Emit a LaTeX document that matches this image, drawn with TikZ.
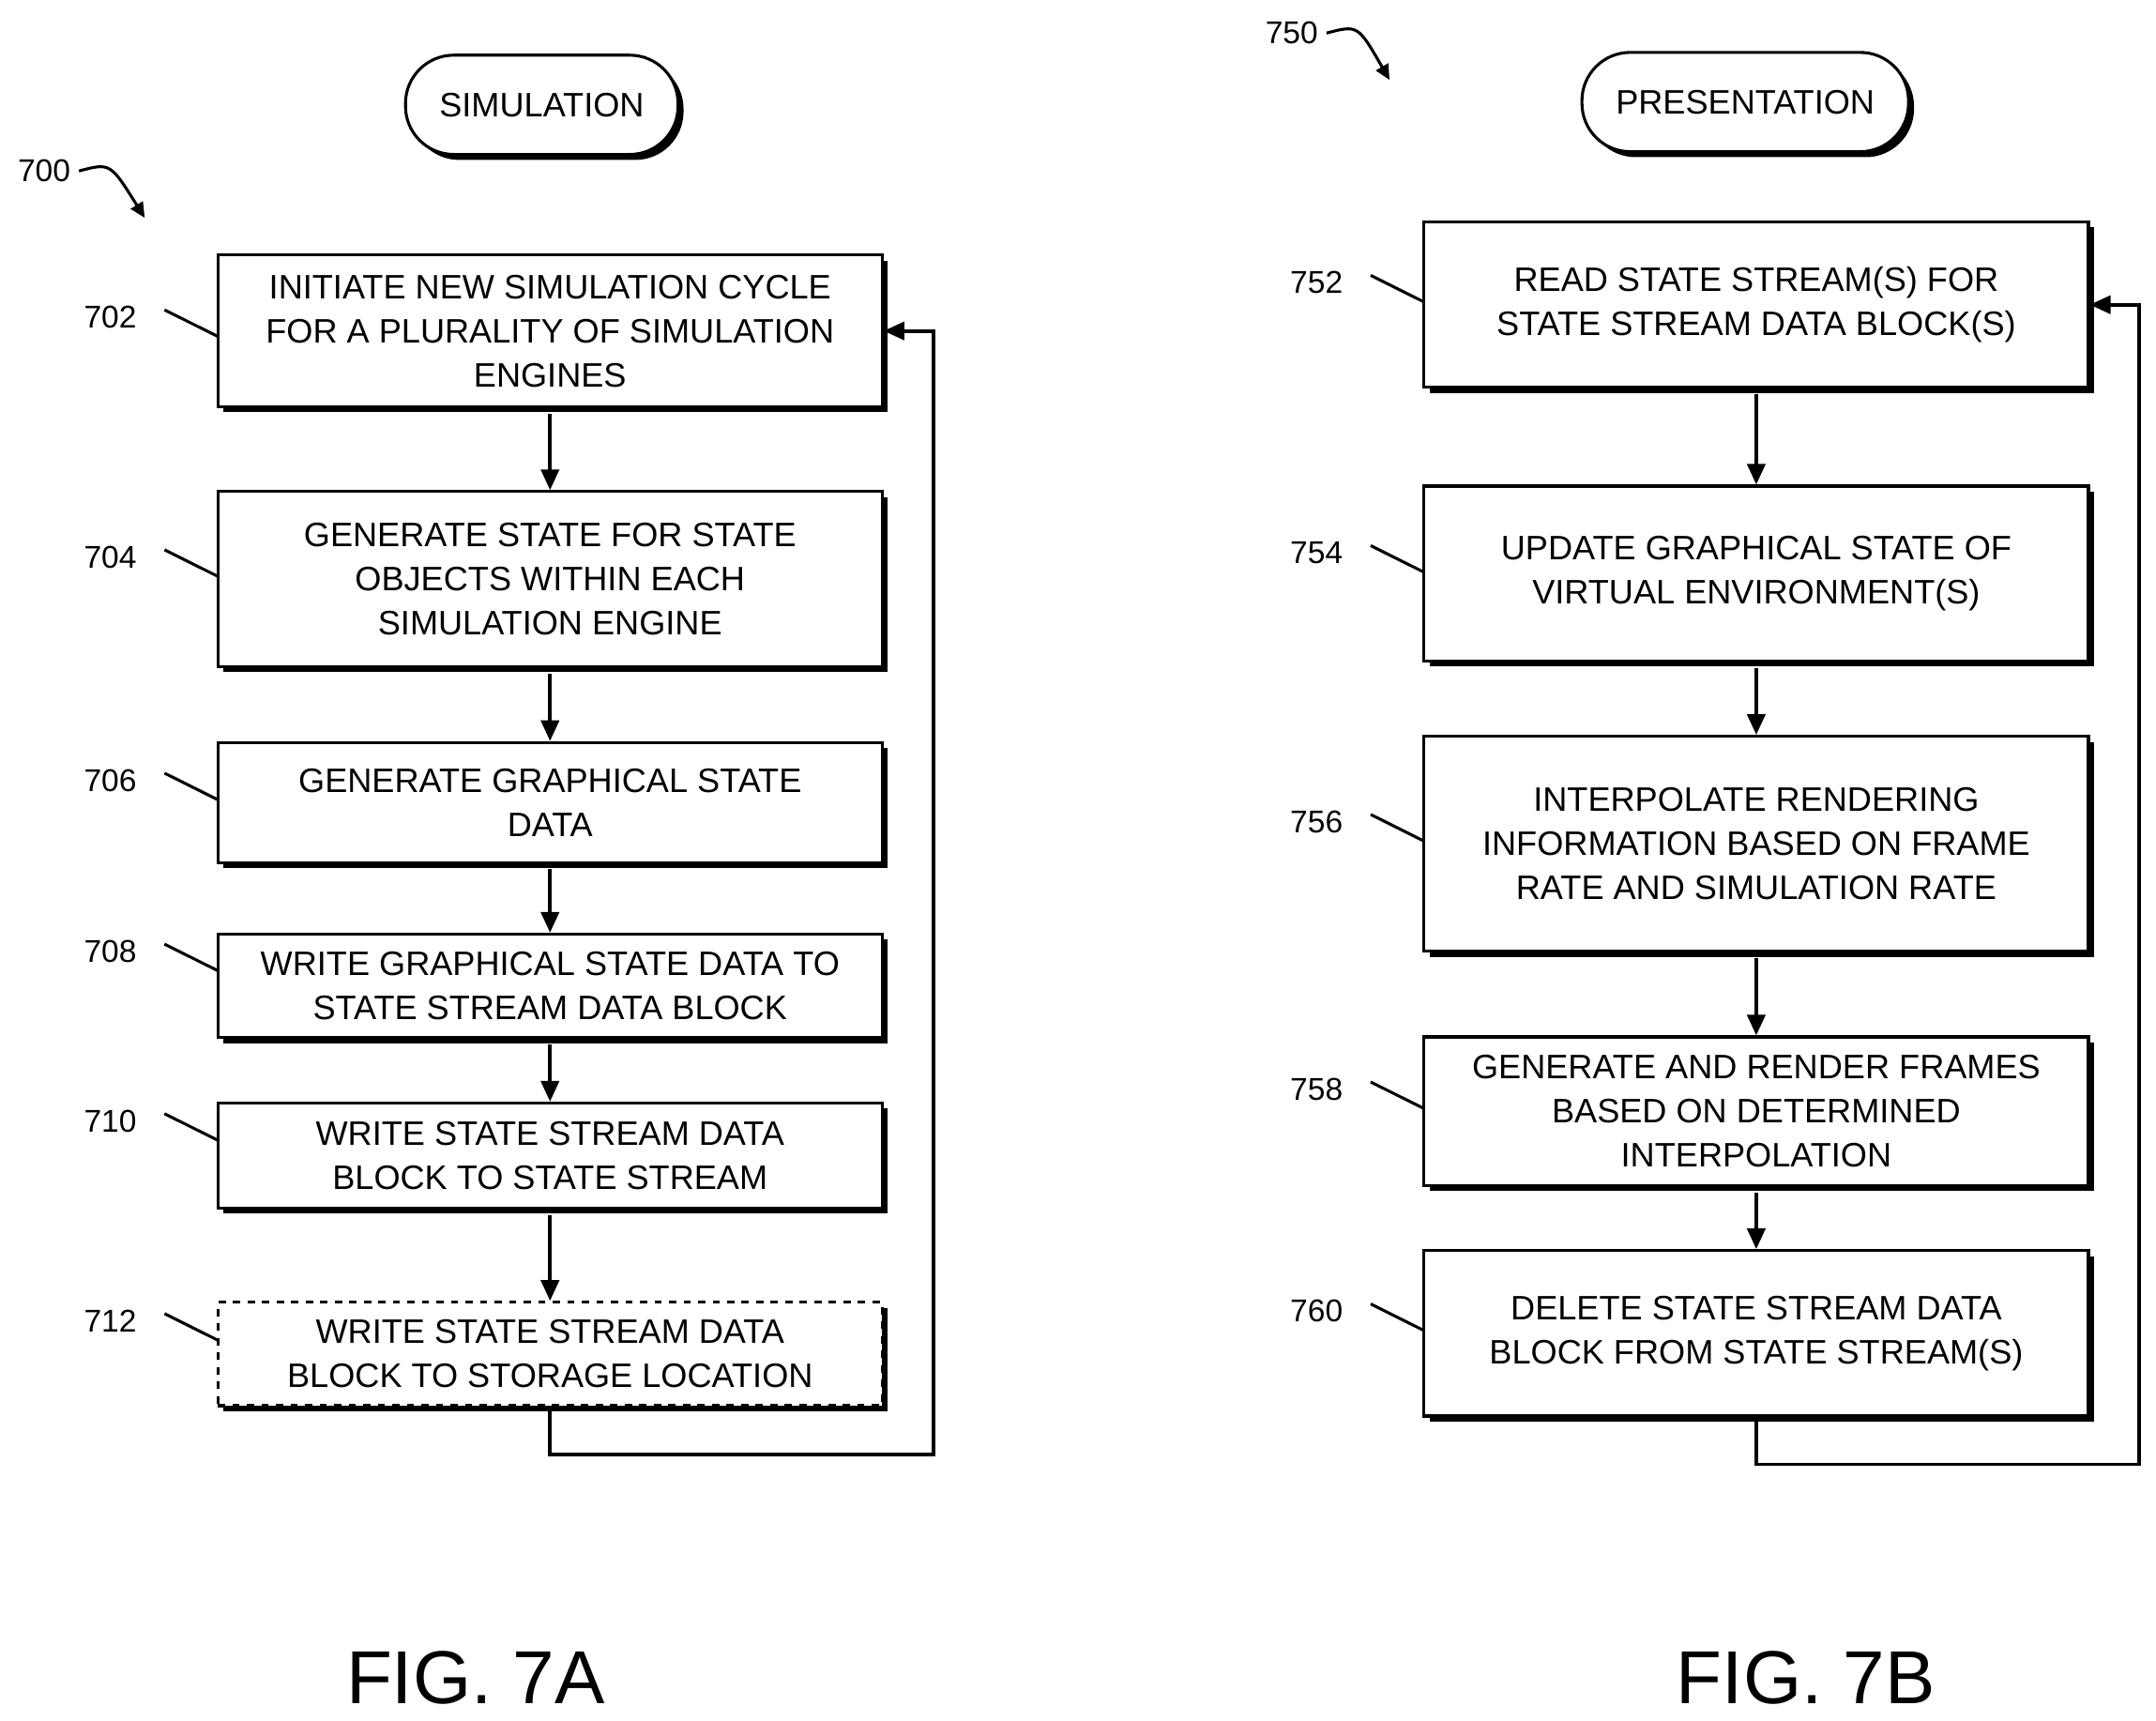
\documentclass[tikz,border=0pt]{standalone}
\usepackage{fontspec}
\setmainfont{Liberation Sans}
\usetikzlibrary{shadows,arrows.meta}
\begin{document}
\begin{tikzpicture}[x=0.02cm,y=-0.02cm,
 box/.style={draw,line width=1.2pt,fill=white,minimum width=9.64cm,align=center,inner sep=2pt,
   font=\fontsize{14}{18.2}\selectfont,
   drop shadow={shadow xshift=0.8mm,shadow yshift=-0.8mm,fill=black,opacity=1}},
 term/.style={draw,line width=1.2pt,fill=white,rounded corners=0.7cm,minimum height=1.44cm,
   font=\fontsize{14}{18}\selectfont,inner xsep=14pt,
   drop shadow={shadow xshift=0.8mm,shadow yshift=-0.8mm,fill=black,opacity=1}},
 lab/.style={font=\fontsize{13}{16}\selectfont},
 arr/.style={line width=1.5pt,-{Triangle[length=3mm,width=2.6mm]}},
 ln/.style={line width=1.2pt}]
\useasboundingbox (0,0) rectangle (1564,1248);
\node[term] (sim) at (393,76) {SIMULATION};
\node[term] (pre) at (1266,74) {PRESENTATION};
\node[box,minimum height=2.2cm] (b702) at (399,240) {INITIATE NEW SIMULATION CYCLE\\FOR A PLURALITY OF SIMULATION\\ENGINES};
\node[box,minimum height=2.54cm] (b704) at (399,420) {GENERATE STATE FOR STATE\\OBJECTS WITHIN EACH\\SIMULATION ENGINE};
\node[box,minimum height=1.74cm] (b706) at (399,582) {GENERATE GRAPHICAL STATE\\DATA};
\node[box,minimum height=1.5cm] (b708) at (399,715) {WRITE GRAPHICAL STATE DATA TO\\STATE STREAM DATA BLOCK};
\node[box,minimum height=1.52cm] (b710) at (399,838) {WRITE STATE STREAM DATA\\BLOCK TO STATE STREAM};
\node[box,minimum height=1.5cm,dashed] (b712) at (399,982) {WRITE STATE STREAM DATA\\BLOCK TO STORAGE LOCATION};
\node[box,minimum height=2.4cm] (b752) at (1274,221) {READ STATE STREAM(S) FOR\\STATE STREAM DATA BLOCK(S)};
\node[box,minimum height=2.54cm] (b754) at (1274,416) {UPDATE GRAPHICAL STATE OF\\VIRTUAL ENVIRONMENT(S)};
\node[box,minimum height=3.12cm] (b756) at (1274,612) {INTERPOLATE RENDERING\\INFORMATION BASED ON FRAME\\RATE AND SIMULATION RATE};
\node[box,minimum height=2.16cm] (b758) at (1274,806) {GENERATE AND RENDER FRAMES\\BASED ON DETERMINED\\INTERPOLATION};
\node[box,minimum height=2.4cm] (b760) at (1274,967) {DELETE STATE STREAM DATA\\BLOCK FROM STATE STREAM(S)};
\foreach \a/\b in {702/704,704/706,706/708,708/710,710/712,752/754,754/756,756/758,758/760}
  \draw[arr] ([yshift=-0.8mm]b\a.south) -- (b\b.north);
\coordinate (c1) at (677,1055); \coordinate (c2) at (1552,1062);
\draw[arr] (b712.south) |- (c1) |- (b702.east);
\draw[arr] (b760.south) |- (c2) |- (b752.east);
\foreach \n/\y in {702/230,704/404,706/566,708/690,710/813,712/958}{
 \node[lab] (l\n) at (80,\y) {\n};
 \draw[ln] ([xshift=8pt,yshift=3pt]l\n.east) -- (158,\y+14);}
\foreach \n/\y in {752/205,754/401,756/596,758/790,760/951}{
 \node[lab] (l\n) at (955,\y) {\n};
 \draw[ln] ([xshift=8pt,yshift=3pt]l\n.east) -- (1033,\y+14);}
\node[lab] (l700) at (32,124) {700};
\coordinate (e700) at (105,158);
\draw[ln,-{Triangle[length=2.2mm,width=2mm]}] (l700.east) .. controls (80,118) .. (e700);
\node[lab] (l750) at (937,24) {750};
\coordinate (e750) at (1008,58);
\draw[ln,-{Triangle[length=2.2mm,width=2mm]}] (l750.east) .. controls (985,18) .. (e750);
\node[font=\fontsize{31}{36}\selectfont] (f7a) at (345,1217) {FIG. 7A};
\node[font=\fontsize{31}{36}\selectfont] (f7b) at (1310,1217) {FIG. 7B};
\end{tikzpicture}
\end{document}
